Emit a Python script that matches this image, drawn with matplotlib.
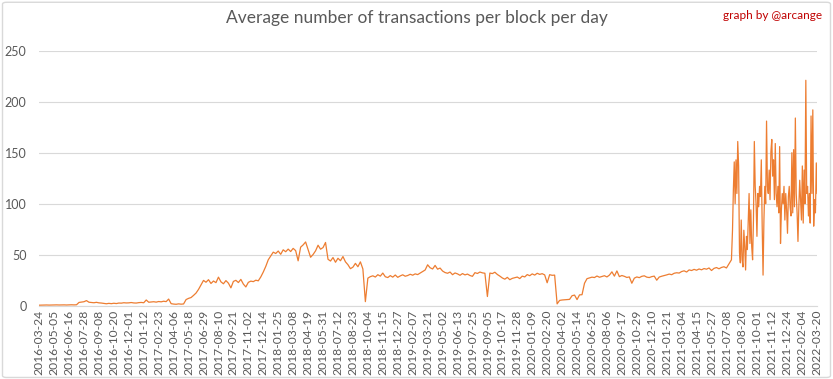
import pandas as pd
import matplotlib.pyplot as plt
from matplotlib.patches import FancyBboxPatch

plt.rcParams['font.family'] = ['Lato', 'DejaVu Sans']

# weekly readings, 2016-03-24 .. 2021-07-22
weekly_start = "2016-03-24"
weekly_values = [
    0.5, 0.6, 0.6, 0.7, 0.6, 0.7, 0.7, 0.8, 0.7, 0.8, 0.8, 0.7, 0.8, 0.9, 0.8, 0.9,
    3.2, 3.6, 3.9, 5.0, 3.4, 3.1, 2.9, 3.3, 2.8, 2.6,
    2.2, 1.9, 2.3, 2.0, 2.4, 2.1, 2.6, 2.5, 2.9, 2.7,
    2.8, 3.1, 2.7, 2.6, 3.0, 3.2, 2.9,
    5.6, 3.4, 3.6, 3.9, 3.5, 4.1, 3.8, 4.4, 4.0, 6.5,
    2.0, 1.6, 1.4, 1.8, 1.5, 1.7,
    6.0, 7.2, 8.0, 10.1, 12.4, 16.0, 20.5, 24.8, 23.0,
    25.5, 21.8, 24.2, 22.6, 28.0, 23.4, 21.5, 24.6, 22.1, 17.5, 23.8, 24.9, 22.7, 25.8,
    21.2, 18.4, 22.9, 24.1, 23.6, 25.0, 24.4,
    28.2, 33.0, 38.5, 45.0, 48.7, 52.5,
    51.2, 53.6, 50.4, 54.8, 52.9, 55.5, 53.1, 56.2, 54.0,
    44.0,
    57.4, 59.6, 62.5,
    55.0, 47.5, 50.2, 53.8, 59.3, 55.4, 57.0, 62.0, 45.5,
    43.8, 47.2, 42.6, 46.5, 44.1, 48.2, 43.0, 40.2,
    36.3, 37.8, 41.5, 38.2, 43.0, 36.0,
    4.0,
    27.0, 28.5, 29.3, 28.1, 30.4, 29.0, 32.0, 28.4, 27.6, 29.5, 28.0, 30.1, 27.8, 29.2,
    30.3, 28.9, 29.6, 30.8, 29.9, 31.2, 30.5, 32.0,
    33.5, 35.0, 40.1, 37.2, 36.0, 39.5, 35.8, 36.9,
    34.0, 32.5, 31.8, 33.0, 30.4, 32.1, 31.2, 29.8, 31.5, 30.2, 31.0, 29.6,
    28.8, 32.4, 31.6, 33.0, 32.2, 31.8,
    9.0,
    32.0, 31.5, 32.8, 30.6, 29.0,
    27.2, 26.0, 27.8, 25.5, 26.8, 27.4, 28.1, 26.6,
    29.0, 28.2, 30.5, 29.4, 31.2, 30.0, 31.8, 30.7, 31.4, 30.2,
    22.5,
    30.4, 29.8, 30.0,
    1.8,
    5.2, 5.6, 5.8, 6.0, 6.2,
    9.8, 10.4, 6.0, 10.6, 10.8,
    22.0, 26.5, 27.3, 28.0, 27.6, 29.1, 27.9, 28.6, 29.4, 28.2, 30.0, 33.2, 29.0, 34.1,
    28.5, 29.6, 28.8, 27.7, 28.2,
    22.0,
    27.0, 28.2, 27.5, 28.8, 29.3, 28.0, 27.6, 28.5, 29.0, 25.0, 28.1, 28.9,
    29.5, 30.2, 31.0, 30.4, 31.8, 32.3, 32.0,
    33.5, 34.2, 33.0, 35.1, 34.5, 35.6, 34.8, 36.0,
    35.2, 36.4, 35.8, 37.0, 34.5, 36.6, 37.4, 36.2,
    37.5, 38.2, 37.0, 41.0, 45.0,
]

# denser readings for the volatile end, 2021-07-25 .. 2022-03-20
recent_start = "2021-07-25"
recent_end = "2022-03-20"
recent_values = [
    74, 114, 141, 100, 143, 110, 161, 137, 52, 42, 84, 45, 38, 74, 58, 35, 68, 55, 84, 110,
    61, 94, 58, 45, 84, 161, 117, 100, 68, 110, 97, 117, 107, 143, 78, 30, 84, 117, 100, 181,
    117, 110, 133, 104, 151, 163, 127, 143, 104, 159, 110, 97, 117, 91, 156, 61, 94, 110, 100,
    117, 84, 110, 94, 71, 107, 117, 97, 88, 150, 91, 153, 97, 184, 110, 91, 63, 97, 123, 104,
    84, 137, 81, 133, 100, 221, 110, 117, 88, 110, 81, 186, 110, 192, 78, 104, 91, 140, 110,
]

tick_labels = [
    "2016-03-24", "2016-05-05", "2016-06-16", "2016-07-28", "2016-09-08", "2016-10-20",
    "2016-12-01", "2017-01-12", "2017-02-23", "2017-04-06", "2017-05-18", "2017-06-29",
    "2017-08-10", "2017-09-21", "2017-11-02", "2017-12-14", "2018-01-25", "2018-03-08",
    "2018-04-19", "2018-05-31", "2018-07-12", "2018-08-23", "2018-10-04", "2018-11-15",
    "2018-12-27", "2019-02-07", "2019-03-21", "2019-05-02", "2019-06-13", "2019-07-25",
    "2019-09-05", "2019-10-17", "2019-11-28", "2020-01-09", "2020-02-20", "2020-04-02",
    "2020-05-14", "2020-06-25", "2020-08-06", "2020-09-17", "2020-10-29", "2020-12-10",
    "2021-01-21", "2021-03-04", "2021-04-15", "2021-05-27", "2021-07-08", "2021-08-20",
    "2021-10-01", "2021-11-12", "2021-12-24", "2022-02-04", "2022-03-20",
]
y_ticks = [0, 50, 100, 150, 200, 250]

weekly_dates = pd.date_range(weekly_start, periods=len(weekly_values), freq="7D")
recent_dates = pd.date_range(recent_start, recent_end, periods=len(recent_values))
s = pd.concat([pd.Series(weekly_values, index=weekly_dates),
               pd.Series(recent_values, index=recent_dates)])

fig = plt.figure(figsize=(8.33, 3.79), dpi=100)
ax = fig.add_axes([0.047, 0.1934, 0.934, 0.6728])

ax.plot(s.index, s.values, color="#ED7D31", linewidth=0.9)

ax.set_xlim(pd.Timestamp(weekly_start), pd.Timestamp(recent_end))
ax.set_ylim(0, 250)
ax.set_yticks(y_ticks)
ax.set_xticks(pd.to_datetime(tick_labels))
ax.set_xticklabels(tick_labels, rotation=90, fontsize=8.7, color="#595959")
ax.tick_params(axis="y", labelsize=9, colors="#595959", length=0, pad=9)
ax.tick_params(axis="x", length=0, pad=3)

ax.grid(axis="y", color="#D9D9D9", linewidth=0.8)
ax.set_axisbelow(True)
for side in ["top", "right", "left"]:
    ax.spines[side].set_visible(False)
ax.spines["bottom"].set_color("#D9D9D9")

fig.text(0.5, 0.952, "Average number of transactions per block per day",
         ha="center", va="center", fontsize=12.5, color="#595959")
fig.text(0.987, 0.96, "graph by @arcange", ha="right", va="center",
         fontsize=8.5, color="#C00000")

fig.add_artist(FancyBboxPatch((0.003, 0.004), 0.994, 0.99, boxstyle="round,pad=0,rounding_size=0.005",
                              transform=fig.transFigure, fill=False,
                              edgecolor="#D9D9D9", linewidth=1))

fig.savefig("out.png", dpi=100)
